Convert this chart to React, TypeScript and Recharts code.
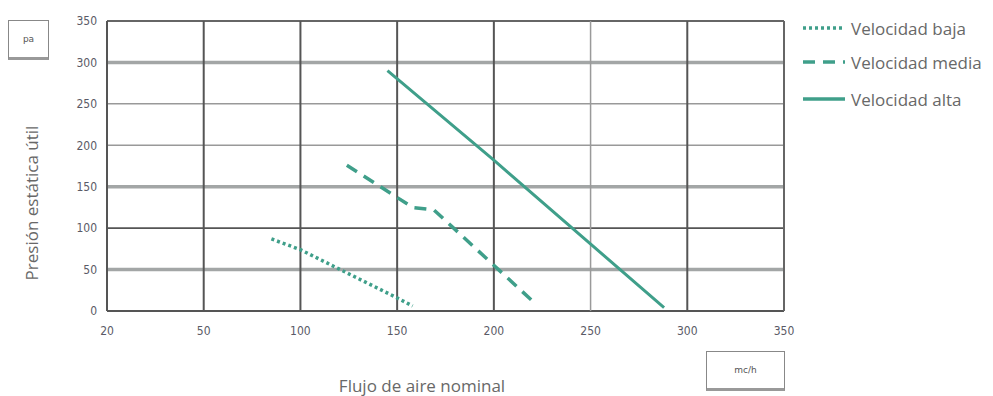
import React from 'react';
import {
  LineChart,
  Line,
  XAxis,
  YAxis,
  ReferenceLine,
} from 'recharts';

// flow (m3/h) ticks; the first tick is printed as "20" in the original sheet
const xTicks = [0, 50, 100, 150, 200, 250, 300, 350];
const xTickLabels = ['20', '50', '100', '150', '200', '250', '300', '350'];
const yTicks = [0, 50, 100, 150, 200, 250, 300, 350];

const bajaFlow = [85, 100, 118, 149, 158];
const bajaPressure = [87, 74, 53, 17, 6];
const mediaFlow = [124, 158, 169, 220];
const mediaPressure = [176, 125, 122, 12];
const altaFlow = [145, 200, 288];
const altaPressure = [290, 182, 4];

const seriesNames = ['Velocidad baja', 'Velocidad media', 'Velocidad alta'];

const toPoints = (flow: number[], pressure: number[]) =>
  flow.map((f, i) => ({ flow: f, pressure: pressure[i] }));

const TEAL = '#3f9f8a';
const TEXT = '#686868';
const FONT = '"Open Sans", "Noto Sans", sans-serif';

// grid look: heavy grey bands and thinner dark rules, like the printed chart
const hStyle: Record<number, { stroke: string; width: number }> = {
  0: { stroke: '#555', width: 2 },
  50: { stroke: '#a3a6a6', width: 3.5 },
  100: { stroke: '#555', width: 1.8 },
  150: { stroke: '#a3a6a6', width: 3.5 },
  200: { stroke: '#999', width: 1.5 },
  250: { stroke: '#999', width: 1.5 },
  300: { stroke: '#a3a6a6', width: 3.5 },
  350: { stroke: '#666', width: 2 },
};
const vStyle: Record<number, { stroke: string; width: number }> = {
  0: { stroke: '#555', width: 2 },
  50: { stroke: '#555', width: 2 },
  100: { stroke: '#555', width: 2 },
  150: { stroke: '#555', width: 2 },
  200: { stroke: '#555', width: 2 },
  250: { stroke: '#9a9a9a', width: 1.5 },
  300: { stroke: '#555', width: 2 },
  350: { stroke: '#666', width: 2 },
};

const dashes = ['3 3', '12 8', undefined];
const legendTops = [28, 62, 99];

const LegendBox = () => (
  <div style={{ position: 'absolute', left: 0, top: 0, fontFamily: FONT }}>
    {seriesNames.map((name, i) => (
      <div
        key={name}
        style={{
          position: 'absolute',
          left: 803,
          top: legendTops[i] - 12,
          height: 24,
          display: 'flex',
          alignItems: 'center',
          whiteSpace: 'nowrap',
        }}
      >
        <svg width={44} height={10}>
          <line
            x1={0}
            y1={5}
            x2={42}
            y2={5}
            stroke={TEAL}
            strokeWidth={3.5}
            strokeDasharray={dashes[i]}
          />
        </svg>
        <span style={{ fontSize: 17, color: TEXT, marginLeft: 4 }}>{name}</span>
      </div>
    ))}
  </div>
);

const unitBox = (left: number, top: number, w: number, h: number, text: string) => (
  <div
    style={{
      position: 'absolute',
      left,
      top,
      width: w,
      height: h,
      boxSizing: 'border-box',
      border: '1.5px solid #888',
      borderBottom: '3px solid #999',
      display: 'flex',
      alignItems: 'center',
      justifyContent: 'center',
      fontSize: 9,
      color: '#555',
      fontFamily: 'DejaVu Sans, sans-serif',
    }}
  >
    {text}
  </div>
);

export default function App() {
  const tickStyle = { fontSize: 12, fill: '#5a5a66', fontFamily: 'DejaVu Sans Condensed, sans-serif' };
  return (
    <div style={{ position: 'absolute', left: 0, top: 0, width: 993, height: 396, background: '#fff' }}>
      <LineChart
        width={993}
        height={396}
        margin={{ top: 21, right: 209, bottom: 55, left: 47 }}
      >
        {yTicks.map((v) => (
          <ReferenceLine
            key={'h' + v}
            y={v}
            stroke={hStyle[v].stroke}
            strokeWidth={hStyle[v].width}
            ifOverflow="visible"
          />
        ))}
        {xTicks.map((v) => (
          <ReferenceLine
            key={'v' + v}
            x={v}
            stroke={vStyle[v].stroke}
            strokeWidth={vStyle[v].width}
            ifOverflow="visible"
          />
        ))}
        <XAxis
          type="number"
          dataKey="flow"
          domain={[0, 350]}
          ticks={xTicks}
          tickFormatter={(_v, i) => xTickLabels[i]}
          axisLine={false}
          tickLine={false}
          tick={tickStyle}
          tickMargin={9}
          height={30}
          interval={0}
        />
        <YAxis
          type="number"
          dataKey="pressure"
          domain={[0, 350]}
          ticks={yTicks}
          axisLine={false}
          tickLine={false}
          tick={tickStyle}
          tickMargin={4}
          width={60}
          interval={0}
        />
        <Line
          data={toPoints(bajaFlow, bajaPressure)}
          dataKey="pressure"
          name={seriesNames[0]}
          stroke={TEAL}
          strokeWidth={3.5}
          strokeDasharray="3 3"
          dot={false}
          activeDot={false}
          isAnimationActive={false}
        />
        <Line
          data={toPoints(mediaFlow, mediaPressure)}
          dataKey="pressure"
          name={seriesNames[1]}
          stroke={TEAL}
          strokeWidth={3.5}
          strokeDasharray="12 8"
          dot={false}
          activeDot={false}
          isAnimationActive={false}
        />
        <Line
          data={toPoints(altaFlow, altaPressure)}
          dataKey="pressure"
          name={seriesNames[2]}
          stroke={TEAL}
          strokeWidth={3}
          dot={false}
          activeDot={false}
          isAnimationActive={false}
        />
      </LineChart>
      <LegendBox />
      {unitBox(8, 20, 41, 40, 'pa')}
      {unitBox(706, 351, 79, 40, 'mc/h')}
      <div
        style={{
          position: 'absolute',
          left: 31,
          top: 203,
          transform: 'translate(-50%, -50%) rotate(-90deg)',
          whiteSpace: 'nowrap',
          fontSize: 17,
          color: TEXT,
          fontFamily: FONT,
        }}
      >
        Presión estática útil
      </div>
      <div
        style={{
          position: 'absolute',
          left: 422,
          top: 385,
          transform: 'translate(-50%, -50%)',
          whiteSpace: 'nowrap',
          fontSize: 17,
          color: TEXT,
          fontFamily: FONT,
        }}
      >
        Flujo de aire nominal
      </div>
    </div>
  );
}
